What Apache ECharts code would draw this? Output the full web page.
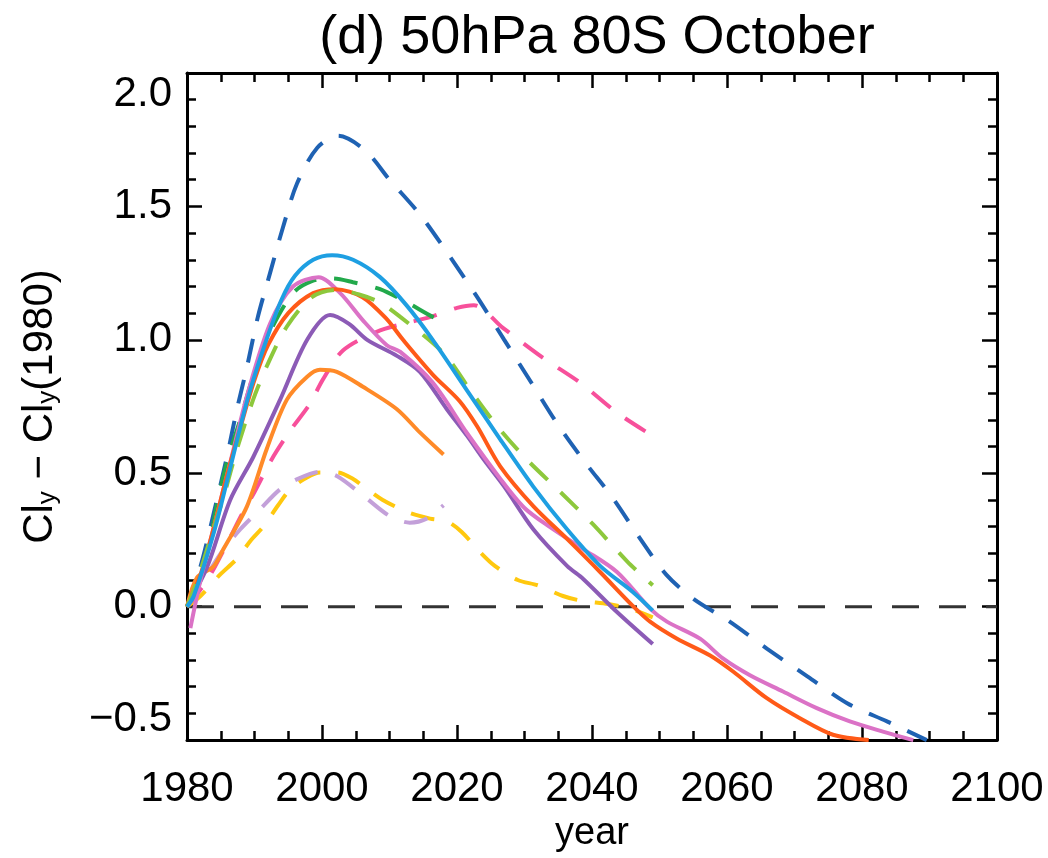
<!DOCTYPE html>
<html>
<head>
<meta charset="utf-8">
<script src="https://cdn.jsdelivr.net/npm/echarts@6/dist/echarts.min.js"></script>
<style>
	html, body { margin: 0; padding: 0; background: #fff; }
	#chart { width: 1048px; height: 858px; }
</style>
</head>
<body>
<div id="chart"></div>
<script>
	// values, [year, Cly - Cly(1980)]
	var darkBlueDash = [[1980,0],[1982,0.15],[1984.1,0.365],[1985.9,0.56],[1987.4,0.74],[1988.9,0.9],[1990.5,1.086],[1992.3,1.25],[1994.2,1.42],[1996.3,1.586],[1999.3,1.72],[2002.4,1.765],[2006.4,1.71],[2010,1.6],[2014.5,1.47],[2019,1.31],[2023,1.16],[2027,1.0],[2031,0.84],[2035,0.68],[2039,0.54],[2043,0.41],[2047,0.26],[2051,0.12],[2055,0.03],[2060.4,-0.056],[2065.9,-0.157],[2071.9,-0.261],[2077.8,-0.362],[2083.7,-0.43],[2089.6,-0.5]];
	var lightBlue = [[1980,0],[1981,0.04],[1984,0.28],[1986.5,0.53],[1989,0.78],[1991.5,0.98],[1994,1.15],[1996,1.24],[1998.7,1.3],[2001.5,1.317],[2004.6,1.3],[2008.6,1.235],[2012.5,1.13],[2016.4,1.0],[2021.5,0.81],[2026.4,0.627],[2031.3,0.45],[2036.3,0.29],[2041.2,0.153],[2046,0.056],[2049,-0.015]];
	var greenDash = [[1980,0],[1983,0.2],[1984.4,0.38],[1986,0.55],[1988,0.71],[1990,0.88],[1992.3,1.03],[1995.7,1.175],[1998.5,1.22],[2001.6,1.23],[2004.6,1.216],[2008.6,1.19],[2012.6,1.14],[2016.4,1.086],[2018,1.07]];
	var orchid = [[1980.5,-0.08],[1982,0.1],[1984,0.3],[1986.5,0.55],[1989,0.8],[1992.3,1.06],[1995.7,1.2],[1999.5,1.235],[2002.7,1.175],[2006,1.075],[2009.6,0.98],[2011.6,0.955],[2016.4,0.84],[2021.5,0.65],[2026.4,0.48],[2030,0.37],[2033.8,0.298],[2038.7,0.216],[2043.7,0.13],[2048.6,-0.007],[2051.1,-0.056],[2056,-0.12],[2059.4,-0.194],[2063.4,-0.257],[2068.3,-0.318],[2073.3,-0.38],[2078.2,-0.43],[2083.1,-0.468],[2087.6,-0.5]];
	var orangeRed = [[1980,0],[1982,0.12],[1984,0.3],[1986,0.5],[1988,0.68],[1990,0.85],[1992,0.98],[1995,1.1],[1998.7,1.175],[2002,1.19],[2006,1.16],[2009.5,1.08],[2012,1.0],[2016.4,0.87],[2020.4,0.77],[2023,0.675],[2026.4,0.526],[2031.3,0.377],[2036.3,0.254],[2041.2,0.13],[2046,0.004],[2048.6,-0.056],[2052.6,-0.12],[2057.5,-0.183],[2060.9,-0.243],[2065.9,-0.343],[2070.8,-0.418],[2075.7,-0.48],[2081,-0.5]];
	var purple = [[1980,0],[1983,0.15],[1986.4,0.4],[1989.8,0.56],[1993.8,0.776],[1997.8,1.0],[2001.2,1.093],[2004,1.06],[2006.7,1.0],[2011.1,0.94],[2014.5,0.88],[2018.5,0.74],[2021.5,0.64],[2024,0.55],[2027,0.45],[2031.3,0.29],[2036.3,0.153],[2038.7,0.104],[2043.7,-0.02],[2049,-0.14]];
	var lightOrange = [[1980,0],[1981.5,0.11],[1983.9,0.15],[1985.4,0.216],[1988.9,0.377],[1991.8,0.59],[1994.8,0.776],[1997.8,0.862],[1999.7,0.888],[2002.2,0.88],[2006,0.825],[2011.1,0.74],[2014.5,0.653],[2018,0.57]];
	var limeDash = [[1980,0],[1981.4,0.09],[1983.4,0.25],[1985.4,0.41],[1987.4,0.59],[1989.8,0.776],[1991.8,0.9],[1994.8,1.05],[1998.5,1.16],[2002.2,1.187],[2005.5,1.17],[2008.6,1.14],[2011.6,1.086],[2018,0.95],[2022,0.81],[2026,0.675],[2030.4,0.55],[2035.3,0.43],[2040.1,0.31],[2045.2,0.17],[2049,0.08]];
	var hotPinkDash = [[1980,0],[1983,0.1],[1986,0.24],[1988,0.34],[1990,0.43],[1992.5,0.55],[1995.3,0.66],[1998.2,0.76],[2000.1,0.85],[2003.1,0.96],[2008.1,1.03],[2012,1.06],[2016,1.085],[2020,1.12],[2022.5,1.13],[2026.8,1.045],[2032.7,0.933],[2038.2,0.84],[2043.7,0.727],[2049,0.64]];
	var lavenderDash = [[1980,0],[1982.5,0.1],[1985,0.2],[1987.9,0.29],[1990.4,0.354],[1993.8,0.44],[1996.5,0.48],[1999.7,0.505],[2002.2,0.49],[2006.4,0.41],[2010,0.34],[2013,0.315],[2015.5,0.33],[2018,0.38]];
	var yellowDash = [[1980,0],[1982,0.04],[1984.9,0.12],[1987.4,0.18],[1989.5,0.25],[1991.3,0.3],[1993.5,0.38],[1995.3,0.44],[1997.5,0.48],[1999.7,0.503],[2002.2,0.503],[2004.5,0.48],[2006.7,0.44],[2009,0.4],[2012.6,0.355],[2016,0.33],[2018.5,0.32],[2020.7,0.28],[2023.4,0.205],[2025.6,0.153],[2029,0.1],[2032,0.08],[2035.7,0.04],[2038.5,0.022],[2042.4,0.01],[2045.6,-0.007],[2049,-0.04]];
	var zeroLine = [[1980,0],[2100,0]];

	var font = 'Liberation Sans, Helvetica, Arial, sans-serif';

	function curve(data, color, dashed) {
		return {
			type: 'line',
			data: data,
			smooth: 0.3,
			symbol: 'none',
			clip: true,
			lineStyle: {
				color: color,
				width: 4,
				type: dashed ? [24, 18] : 'solid',
				cap: 'butt'
			}
		}
	}

	function frameAxis(pos, isX, labels) {
		var ax = {
			type: 'value',
			position: pos,
			min: isX ? 1980 : -0.5,
			max: isX ? 2100 : 2.0,
			interval: isX ? 20 : 0.5,
			axisLine: { show: true, onZero: false, lineStyle: { color: '#000', width: 3 } },
			axisTick: { show: true, inside: true, length: 15, lineStyle: { color: '#000', width: 2.5 } },
			minorTick: { show: true, splitNumber: isX ? 4 : 5, length: 9, lineStyle: { color: '#000', width: 2.5 } },
			splitLine: { show: false },
			axisLabel: { show: false }
		};
		if (labels) {
			ax.axisLabel = isX ? {
				show: true, fontSize: 42, color: '#000', fontFamily: font, margin: 28,
				formatter: function (v) { return String(v); }
			} : {
				show: true, fontSize: 42, color: '#000', fontFamily: font, margin: 15,
				formatter: function (v) { return v.toFixed(1).replace('-', '\u2212'); },
				verticalAlignMaxLabel: 'top',
				verticalAlignMinLabel: 'bottom'
			};
		}
		return ax;
	}

	var xBottom = frameAxis('bottom', true, true);
	xBottom.name = 'year';
	xBottom.nameLocation = 'middle';
	xBottom.nameGap = 68;
	xBottom.nameTextStyle = { fontSize: 38, color: '#000', fontFamily: font };

	var yLeft = frameAxis('left', false, true);
	yLeft.name = '{n|Cl}{s|y}{n| \u2212 Cl}{s|y}{n|(1980)}';
	yLeft.nameLocation = 'middle';
	yLeft.nameGap = 126;
	yLeft.nameRotate = 90;
	yLeft.nameTextStyle = {
		fontFamily: font,
		color: '#000',
		rich: {
			n: { fontSize: 42, fontFamily: font, color: '#000' },
			s: { fontSize: 26, fontFamily: font, color: '#000', verticalAlign: 'bottom', padding: [16, 0, 0, 0] }
		}
	};

	var myChart = echarts.init(document.getElementById('chart'), null, { renderer: 'canvas' });
	myChart.setOption({
		animation: false,
		backgroundColor: '#fff',
		title: {
			text: '(d) 50hPa 80S October',
			left: 592,
			textAlign: 'center',
			top: 6,
			textStyle: { fontSize: 54, fontWeight: 'normal', color: '#000', fontFamily: font }
		},
		grid: { left: 187, right: 51, top: 73, bottom: 115, containLabel: false },
		xAxis: [xBottom, frameAxis('top', true, false)],
		yAxis: [yLeft, frameAxis('right', false, false)],
		series: [
			{
				type: 'line', data: zeroLine, symbol: 'none',
				lineStyle: { color: '#333', width: 3, type: [27, 20] }
			},
			curve(yellowDash, '#ffc80e', true),
			curve(lavenderDash, '#c3a0d9', true),
			curve(hotPinkDash, '#f7509b', true),
			curve(darkBlueDash, '#1f62b3', true),
			curve(greenDash, '#22a94b', true),
			curve(lightOrange, '#ff8a28', false),
			curve(purple, '#8c5bb6', false),
			curve(orchid, '#db72c6', false),
			curve(orangeRed, '#ff5a18', false),
			curve(limeDash, '#8dc83c', true),
			curve(lightBlue, '#1e9fe2', false)
		]
	});
</script>
</body>
</html>
